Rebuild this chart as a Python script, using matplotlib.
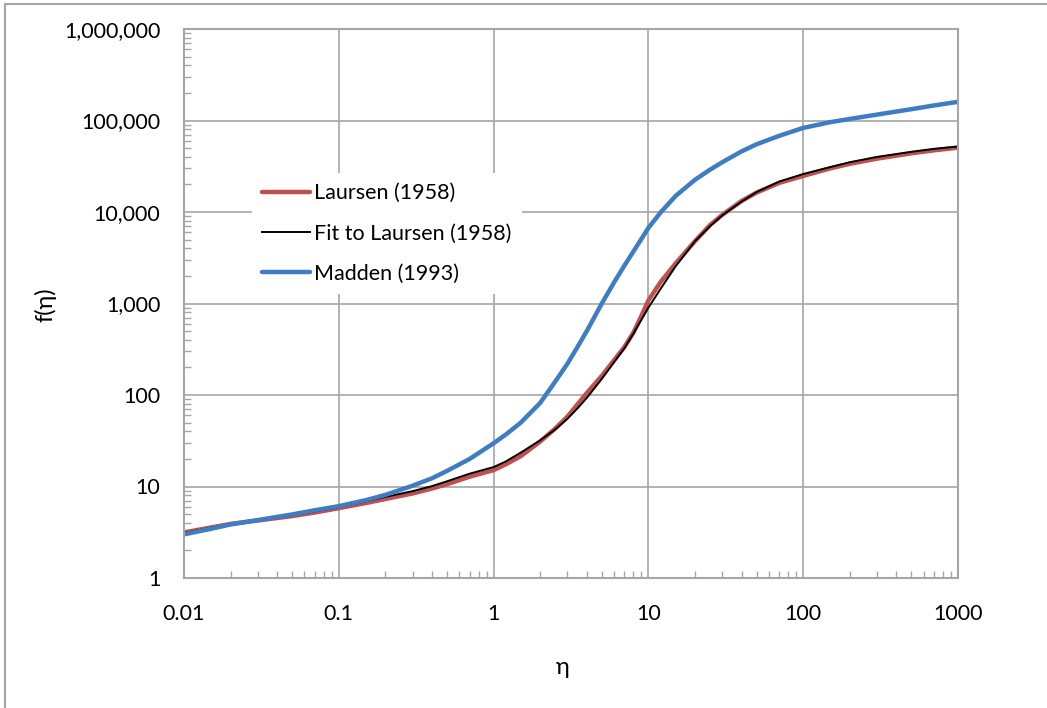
import matplotlib
matplotlib.use('Agg')
import matplotlib.pyplot as plt
from matplotlib.patches import Rectangle
from matplotlib.ticker import FixedLocator, FuncFormatter, LogLocator, NullFormatter

plt.rcParams['font.family'] = ['Lato', 'DejaVu Sans']

# --- data ---
eta_laursen = [0.01, 0.02, 0.03, 0.05, 0.07, 0.1, 0.15, 0.2, 0.3, 0.4, 0.5, 0.7, 1, 1.2, 1.5,
               2, 2.5, 3, 3.5, 4, 5, 6, 7, 8, 9, 10, 12, 15, 20, 25, 30, 40, 50, 70, 100,
               150, 200, 300, 500, 700, 1000]
f_laursen = [3.15, 3.9, 4.25, 4.75, 5.2, 5.8, 6.6, 7.3, 8.4, 9.5, 10.6, 12.8, 15.1, 17.5, 21.5,
             31, 43, 58, 80, 105, 162, 240, 335, 480, 730, 1080, 1720, 2750, 4800, 7200, 9300,
             13200, 16300, 20800, 24800, 30000, 33600, 38300, 43800, 47200, 50500]

eta_fit = [0.01, 0.02, 0.03, 0.05, 0.07, 0.1, 0.15, 0.2, 0.3, 0.4, 0.5, 0.7, 1, 1.2, 1.5,
           2, 2.5, 3, 3.5, 4, 5, 6, 7, 8, 9, 10, 12, 15, 20, 25, 30, 40, 50, 70, 100,
           150, 200, 300, 500, 700, 1000]
f_fit = [3.1, 3.9, 4.3, 4.85, 5.35, 5.95, 6.9, 7.7, 8.9, 10.1, 11.4, 13.8, 16.3, 18.8, 23.5,
         32, 42, 55, 72, 93, 150, 228, 325, 470, 660, 900, 1450, 2550, 4800, 7000, 9200,
         13000, 16500, 21500, 26000, 31000, 35000, 40000, 45500, 49000, 52000]

eta_madden = [0.01, 0.015, 0.02, 0.03, 0.05, 0.07, 0.1, 0.15, 0.2, 0.3, 0.4, 0.5, 0.7, 1, 1.2,
              1.5, 2, 2.5, 3, 3.5, 4, 5, 6, 7, 8, 10, 12, 15, 20, 25, 30, 40, 50, 70, 100,
              150, 200, 300, 500, 700, 1000]
f_madden = [3.0, 3.45, 3.85, 4.3, 4.95, 5.5, 6.1, 7.1, 8.1, 10.2, 12.3, 14.8, 20, 29.7, 37,
            50, 82, 140, 220, 340, 500, 1000, 1700, 2600, 3700, 6700, 9900, 15000, 22500, 29000,
            35000, 46000, 55000, 68000, 83000, 96000, 104000, 116000, 133000, 146000, 160000]

x_ticks = [0.01, 0.1, 1, 10, 100, 1000]
x_tick_labels = ['0.01', '0.1', '1', '10', '100', '1000']
y_ticks = [1, 10, 100, 1000, 10000, 100000, 1000000]

grid_col = '#A6A6A6'

fig = plt.figure(figsize=(10.47, 7.08), dpi=100)
ax = fig.add_axes([184 / 1047, 1 - 578 / 708, 774 / 1047, 549 / 708])

# outer chart border (runs off the right and bottom edges)
fig.patches.append(Rectangle((5 / 1047, -0.1), 1.2, 1.1 - 4 / 708, transform=fig.transFigure,
                             fill=False, edgecolor='#A6A6A6', linewidth=1.5))

ax.plot(eta_laursen, f_laursen, color='#C0504D', linewidth=3.2, label='Laursen (1958)',
        solid_capstyle='round', solid_joinstyle='round')
ax.plot(eta_fit, f_fit, color='black', linewidth=1.4, label='Fit to Laursen (1958)',
        solid_joinstyle='round')
ax.plot(eta_madden, f_madden, color='#3D7DC3', linewidth=3.2, label='Madden (1993)',
        solid_capstyle='round', solid_joinstyle='round')

ax.set_xscale('log')
ax.set_yscale('log')
ax.set_xlim(0.01, 1000)
ax.set_ylim(1, 1000000)

ax.xaxis.set_major_locator(FixedLocator(x_ticks))
ax.set_xticks(x_ticks, x_tick_labels)
ax.yaxis.set_major_locator(FixedLocator(y_ticks))
ax.yaxis.set_major_formatter(FuncFormatter(lambda v, p: f'{v:,.0f}'))
ax.xaxis.set_minor_locator(LogLocator(base=10, subs=range(2, 10), numticks=20))
ax.yaxis.set_minor_locator(LogLocator(base=10, subs=range(2, 10), numticks=20))
ax.xaxis.set_minor_formatter(NullFormatter())
ax.yaxis.set_minor_formatter(NullFormatter())

ax.tick_params(which='major', length=0, labelsize=15.5, pad=17, colors=grid_col, labelcolor='black')
ax.tick_params(axis='x', which='major', pad=19)
ax.tick_params(which='minor', direction='in', length=5, width=1, color=grid_col)

ax.grid(True, which='major', color=grid_col, linewidth=1.2)
ax.set_axisbelow(True)
for s in ax.spines.values():
    s.set_color(grid_col)
    s.set_linewidth(1.5)

fig.text(45 / 1047, 1 - 305 / 708, 'f(η)', rotation=90, fontsize=17, ha='center', va='center')
fig.text(563 / 1047, 1 - 667 / 708, 'η', fontsize=17, ha='center', va='center')

leg = ax.legend(loc='upper left', bbox_to_anchor=((252 - 184) / 774, (578 - 173) / 549),
                fontsize=15.5, frameon=True, fancybox=False, framealpha=1, facecolor='white',
                edgecolor='none', handlelength=2.23, handletextpad=0.2, labelspacing=0.95,
                borderpad=0.47, borderaxespad=0)

fig.savefig('out.png', dpi=100)
